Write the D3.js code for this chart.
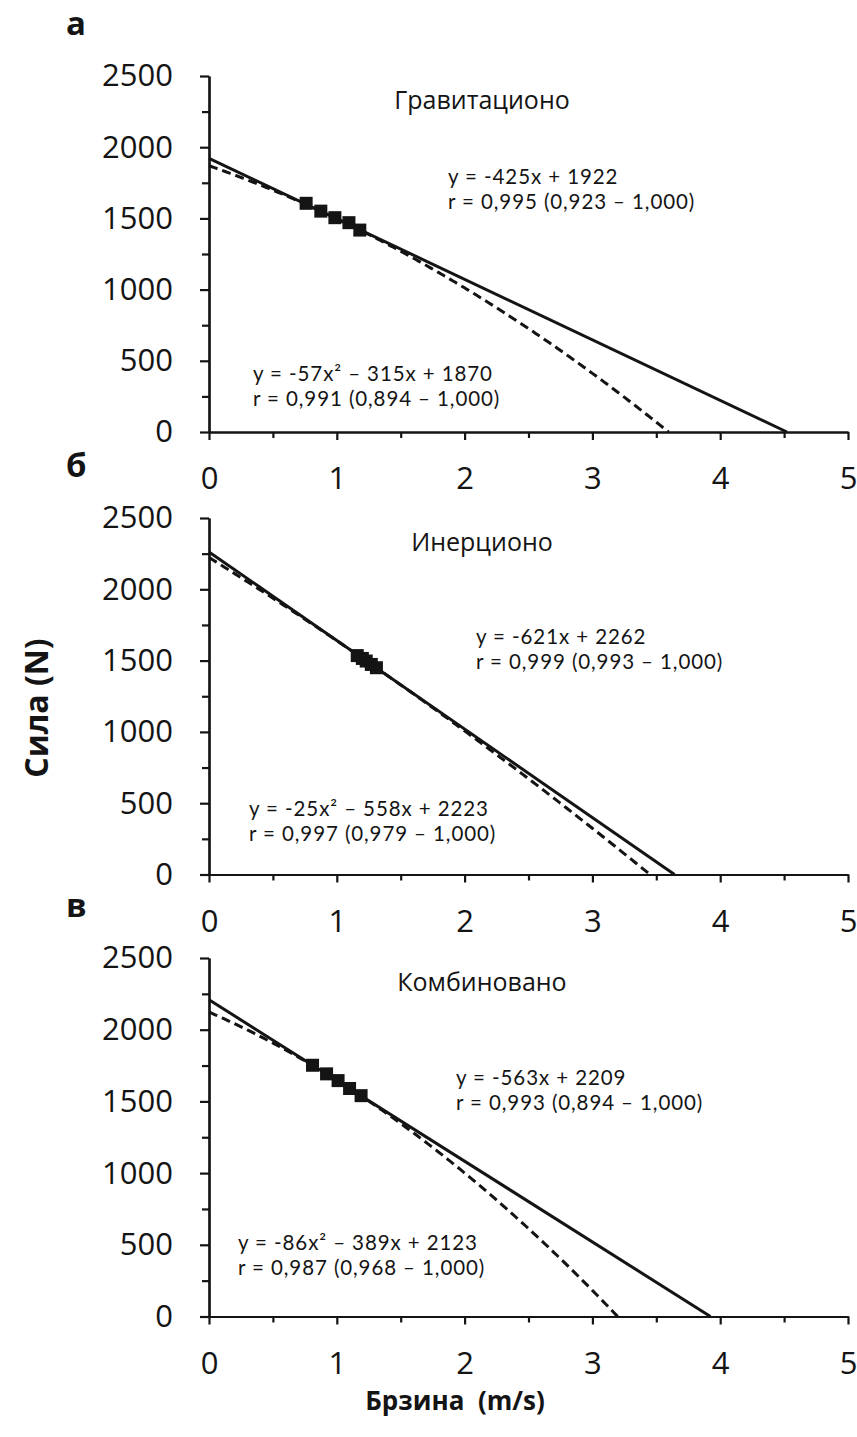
<!DOCTYPE html>
<html><head><meta charset="utf-8">
<script src="https://cdn.jsdelivr.net/npm/d3@7"></script>
<style>
body{margin:0;background:#fff}
text{fill:#141414}
</style></head>
<body><svg id="c" width="857" height="1437" style="font-family:'Open Sans',sans-serif"></svg>
<script>
// ---- data ----
const panelLetters = ["а", "б", "в"];
const panelTitles = ["Гравитационо", "Инерционо", "Комбиновано"];
const linSlope = [-425, -621, -563];
const linIntercept = [1922, 2262, 2209];
const quadA = [-57, -25, -86];
const quadB = [-315, -558, -389];
const quadC = [1870, 2223, 2123];
const linEqText = ["y = -425x + 1922", "y = -621x + 2262", "y = -563x + 2209"];
const linRText = ["r = 0,995 (0,923 – 1,000)", "r = 0,999 (0,993 – 1,000)", "r = 0,993 (0,894 – 1,000)"];
const quadEqText = ["y = -57x² – 315x + 1870", "y = -25x² – 558x + 2223", "y = -86x² – 389x + 2123"];
const quadRText = ["r = 0,991 (0,894 – 1,000)", "r = 0,997 (0,979 – 1,000)", "r = 0,987 (0,968 – 1,000)"];
const pointsXa = [0.76, 0.875, 0.985, 1.095, 1.18];
const pointsYa = [1606, 1551, 1505, 1470, 1418];
const pointsXb = [1.16, 1.2, 1.23, 1.27, 1.31];
const pointsYb = [1535, 1515, 1497, 1473, 1450];
const pointsXc = [0.81, 0.92, 1.01, 1.1, 1.19];
const pointsYc = [1752, 1692, 1645, 1590, 1540];
const xMajorTicks = [0, 1, 2, 3, 4, 5];
const xMinorTicks = [0.5, 1.5, 2.5, 3.5, 4.5];
const yMajorTicks = [0, 500, 1000, 1500, 2000, 2500];
const yMinorTicks = [250, 750, 1250, 1750, 2250];
const xTitle = "Брзина  (m/s)";
const yTitle = "Сила (N)";

const pointsX = [pointsXa, pointsXb, pointsXc];
const pointsY = [pointsYa, pointsYb, pointsYc];

// ---- layout ----
const svg = d3.select("#c");
const x = d3.scaleLinear().domain([0, 5]).range([209, 848]);
const panelTop = [76, 518, 958];
const panelBottom = [432, 874.5, 1316.5];
const ink = "#141414";

panelLetters.forEach((letter, i) => {
  const y = d3.scaleLinear().domain([0, 2500]).range([panelBottom[i], panelTop[i]]);
  const g = svg.append("g");

  // trend lines
  const xRootLin = -linIntercept[i] / linSlope[i];
  const a = quadA[i], b = quadB[i], c = quadC[i];
  const xRootQuad = (-b - Math.sqrt(b * b - 4 * a * c)) / (2 * a);
  const samp = d3.range(0, 201).map(k => k / 200);
  const quadPts = samp.map(t => { const xv = t * xRootQuad; return [xv, a * xv * xv + b * xv + c]; });
  const linPts = [[0, linIntercept[i]], [xRootLin, 0]];
  const line = d3.line().x(d => x(d[0])).y(d => y(d[1]));

  g.append("path").attr("d", line(quadPts)).attr("fill", "none")
    .attr("stroke", ink).attr("stroke-width", 3).attr("stroke-dasharray", "9,5");
  g.append("path").attr("d", line(linPts)).attr("fill", "none")
    .attr("stroke", ink).attr("stroke-width", 3);

  // points
  const s = 13;
  g.selectAll("rect.pt").data(pointsX[i].map((v, k) => [v, pointsY[i][k]])).join("rect")
    .attr("class", "pt")
    .attr("x", d => x(d[0]) - s / 2).attr("y", d => y(d[1]) - s / 2)
    .attr("width", s).attr("height", s).attr("fill", ink);

  // axes
  const xMinor = g.append("g").attr("transform", `translate(0,${panelBottom[i]})`)
    .call(d3.axisBottom(x).tickValues(xMinorTicks).tickSize(6).tickSizeOuter(0).tickFormat(""));
  const xAx = g.append("g").attr("transform", `translate(0,${panelBottom[i]})`)
    .call(d3.axisBottom(x).tickValues(xMajorTicks).tickSize(8).tickSizeOuter(0).tickPadding(27).tickFormat(d3.format("d")));
  const yMinor = g.append("g").attr("transform", `translate(${x(0)},0)`)
    .call(d3.axisLeft(y).tickValues(yMinorTicks).tickSize(7).tickSizeOuter(0).tickFormat(""));
  const yAx = g.append("g").attr("transform", `translate(${x(0)},0)`)
    .call(d3.axisLeft(y).tickValues(yMajorTicks).tickSize(9).tickSizeOuter(0).tickPadding(27).tickFormat(d3.format("d")));
  [xMinor, xAx, yMinor, yAx].forEach(ax => {
    ax.attr("font-family", null).attr("font-size", null);
    ax.selectAll("path,line").attr("stroke", ink).attr("stroke-width", 2.2);
    ax.selectAll("text").style("font-size", "31px").style("font-family", "'Open Sans',sans-serif").attr("fill", ink);
  });

  // panel letter
  g.append("text").attr("x", 66).attr("y", panelTop[i] - 41)
    .style("font-size", "33px").style("font-weight", "bold").text(letter);

  // title
  g.append("text").attr("x", 482).attr("y", panelTop[i] + 33)
    .attr("text-anchor", "middle").style("font-size", "25px").text(panelTitles[i]);
});

// equation texts (positions per panel)
const linEqPos = [[448, 184], [476, 644], [456, 1085]];
const quadEqPos = [[253, 381], [249, 816], [238, 1250]];
const eqGap = 25;
panelLetters.forEach((l, i) => {
  [[linEqPos[i], linEqText[i], linRText[i]], [quadEqPos[i], quadEqText[i], quadRText[i]]].forEach(([p, t1, t2]) => {
    [t1, t2].forEach((t, k) => {
      svg.append("text").attr("x", p[0]).attr("y", p[1] + k * eqGap)
        .style("font-family", "Lato, sans-serif").style("font-size", "20.5px")
        .style("letter-spacing", "0.9px").text(t);
    });
  });
});

// axis titles
svg.append("text").attr("x", 455).attr("y", 1410).attr("text-anchor", "middle")
  .style("white-space", "pre")
  .style("font-size", "26px").style("font-weight", "bold").text(xTitle);
svg.append("text").attr("transform", "translate(48,708) rotate(-90)").attr("text-anchor", "middle")
  .style("font-size", "32px").style("font-weight", "bold").text(yTitle);
</script></body></html>
